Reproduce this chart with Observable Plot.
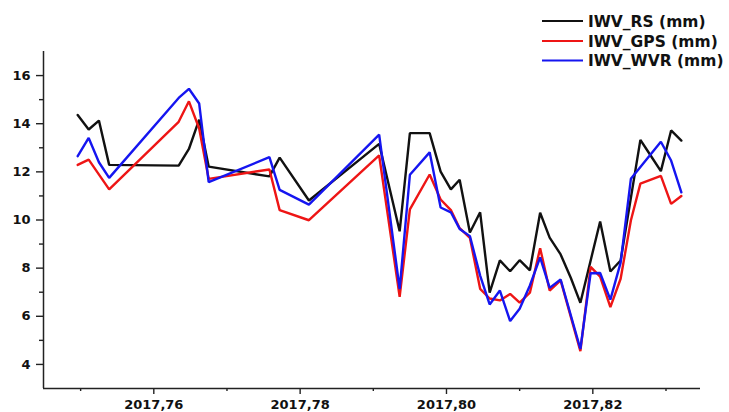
<!DOCTYPE html>
<html><head><meta charset="utf-8">
<script src="https://cdn.jsdelivr.net/npm/d3@7"></script>
<script src="https://cdn.jsdelivr.net/npm/@observablehq/plot@0.6"></script>
<style>
html,body{margin:0;padding:0;background:#fff;}
#wrap{position:relative;width:729px;height:412px;overflow:hidden;}
#legend{position:absolute;left:0;top:0;pointer-events:none;}
</style></head><body><div id="wrap"></div>
<script>
// Time (decimal year) of each observation
const times = [2017.7496, 2017.7511, 2017.7525, 2017.7539, 2017.7634, 2017.7648, 2017.7662, 2017.7675,
  2017.7758, 2017.7772, 2017.7812, 2017.7908, 2017.7936, 2017.7950, 2017.7977, 2017.7992,
  2017.8006, 2017.8018, 2017.8032, 2017.8046, 2017.8059, 2017.8073, 2017.8087, 2017.8100,
  2017.8114, 2017.8128, 2017.8141, 2017.8156, 2017.8170, 2017.8183, 2017.8197, 2017.8210,
  2017.8224, 2017.8238, 2017.8252, 2017.8265, 2017.8279, 2017.8293, 2017.8307, 2017.8321];
const iwvRS = [14.36, 13.76, 14.13, 12.29, 12.26, 12.95, 14.17, 12.22, 11.81, 12.59, 10.81, 13.16,
  9.53, 13.61, 13.61, 12.01, 11.27, 11.67, 9.48, 10.32, 6.98, 8.32, 7.87, 8.33, 7.91, 10.30,
  9.27, 8.57, 7.59, 6.56, null, 9.94, 7.86, 8.32, null, 13.33, 12.68, 12.03, 13.72, 13.30];
const iwvGPS = [12.29, 12.51, null, 11.27, 14.08, 14.93, 13.80, 11.71, 12.10, 10.41, 9.99, 12.68,
  6.81, 10.44, 11.89, 10.85, 10.41, 9.66, 9.26, 7.14, 6.74, 6.66, 6.93, 6.57, 6.98, 8.83,
  7.07, 7.49, null, 4.55, 8.05, 7.65, 6.38, 7.56, 9.98, 11.51, null, 11.83, 10.67, 11.00];
const iwvWVR = [12.65, 13.41, 12.40, 11.75, 15.07, 15.45, 14.84, 11.57, 12.61, 11.25, 10.64, 13.55,
  7.13, 11.88, 12.81, 10.52, 10.32, 9.63, 9.33, 7.69, 6.49, 7.07, 5.80, 6.31, 7.28, 8.45,
  7.18, 7.53, null, 4.64, 7.79, 7.80, 6.69, 8.23, 11.71, null, null, 13.25, 12.47, 11.15];
const seriesNames = ["IWV_RS (mm)", "IWV_GPS (mm)", "IWV_WVR (mm)"];
const seriesColors = ["#111111", "#ee1515", "#1515f0"];
const xTicks = [2017.76, 2017.78, 2017.80, 2017.82];
const xTickLabels = ["2017,76", "2017,78", "2017,80", "2017,82"];
const xMinor = [2017.75, 2017.77, 2017.79, 2017.81, 2017.83];
const yTicks = [4, 6, 8, 10, 12, 14, 16];
const yMinor = [5, 7, 9, 11, 13, 15];
const xDomain = [2017.744925, 2017.834716];
const yDomain = [3, 17];

const allSeries = [iwvRS, iwvGPS, iwvWVR];
const data = [];
allSeries.forEach((vals, si) => times.forEach((t, i) => {
  if (vals[i] != null) data.push({t, v: vals[i], name: seriesNames[si]});
}));

const axisColor = "#222";
const chart = Plot.plot({
  width: 729, height: 412,
  marginLeft: 43, marginRight: 29, marginTop: 51, marginBottom: 24,
  x: {domain: xDomain},
  y: {domain: yDomain},
  color: {domain: seriesNames, range: seriesColors},
  style: {fontFamily: "DejaVu Sans", fontSize: "13px", fontWeight: "bold", background: "#fff", color: "#111"},
  marks: [
    Plot.axisY(yTicks, {tickSize: 7, tickPadding: 6, label: null, stroke: axisColor, strokeWidth: 1.4}),
    Plot.axisY(yMinor, {tickSize: 4, tickFormat: () => "", label: null, stroke: axisColor, strokeWidth: 1.4}),
    Plot.axisX(xTicks, {tickSize: 6, tickPadding: 5, label: null, stroke: axisColor, strokeWidth: 1.4,
      tickFormat: d => xTickLabels[xTicks.indexOf(d)]}),
    Plot.axisX(xMinor, {tickSize: 3, tickFormat: () => "", label: null, stroke: axisColor, strokeWidth: 1.4}),
    Plot.ruleX([xDomain[0]], {stroke: axisColor, strokeWidth: 1.5}),
    Plot.ruleY([yDomain[0]], {stroke: axisColor, strokeWidth: 1.5}),
    Plot.line(data, {x: "t", y: "v", z: "name", stroke: "name", strokeWidth: 2.4, strokeLinejoin: "miter"})
  ]
});
const wrap = document.getElementById("wrap");
wrap.appendChild(chart);

// Legend
const ns = "http://www.w3.org/2000/svg";
const leg = document.createElementNS(ns, "svg");
leg.setAttribute("id", "legend");
leg.setAttribute("width", 729);
leg.setAttribute("height", 80);
const rowY = [21, 41, 60.5];
seriesNames.forEach((name, i) => {
  const ln = document.createElementNS(ns, "line");
  ln.setAttribute("x1", 542); ln.setAttribute("x2", 583);
  ln.setAttribute("y1", rowY[i]); ln.setAttribute("y2", rowY[i]);
  ln.setAttribute("stroke", seriesColors[i]); ln.setAttribute("stroke-width", 2.2);
  leg.appendChild(ln);
  const tx = document.createElementNS(ns, "text");
  tx.setAttribute("x", 588); tx.setAttribute("y", rowY[i]);
  tx.setAttribute("dy", "0.36em");
  tx.setAttribute("font-family", "DejaVu Sans");
  tx.setAttribute("font-weight", "bold");
  tx.setAttribute("font-size", "15.5px");
  tx.setAttribute("fill", "#111");
  tx.textContent = name;
  leg.appendChild(tx);
});
wrap.appendChild(leg);
</script></body></html>
